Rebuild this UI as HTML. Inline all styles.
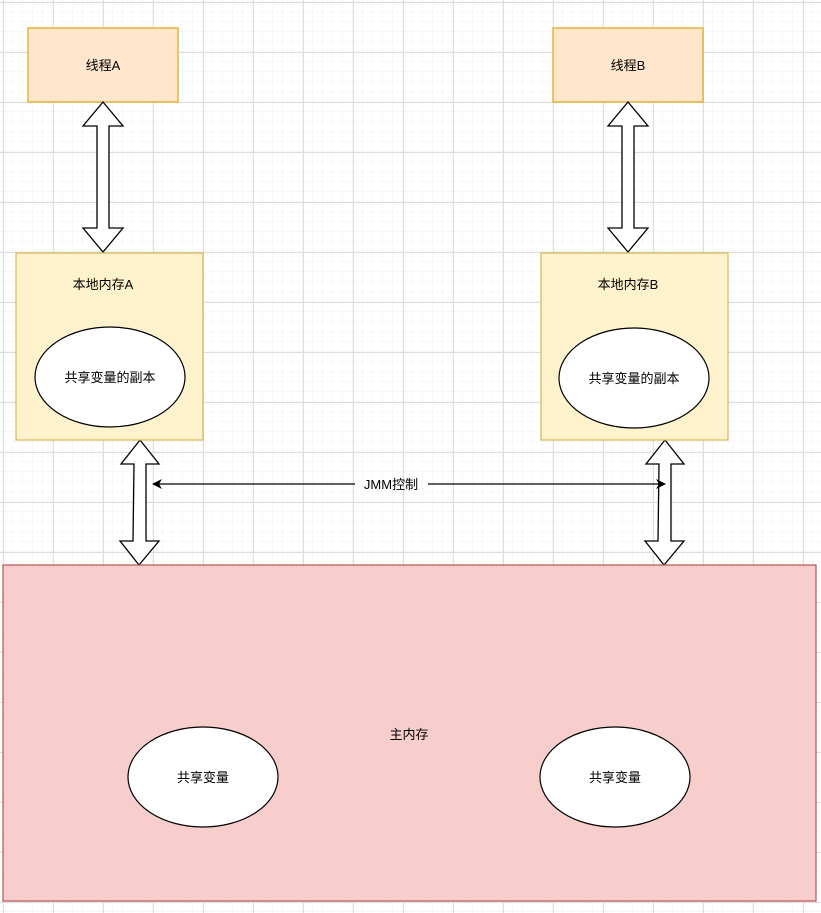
<!DOCTYPE html>
<html><head><meta charset="utf-8"><style>html,body{margin:0;padding:0;background:#fff}svg{display:block}text{font-family:"Liberation Sans","Noto Sans CJK SC",sans-serif;font-size:13px;fill:#000}</style></head><body>
<svg width="821" height="913" viewBox="0 0 821 913" xmlns="http://www.w3.org/2000/svg">
<defs>
<pattern id="mi" width="10" height="10" patternUnits="userSpaceOnUse" x="3" y="2"><path d="M10 0V10M0 10H10" fill="none" stroke="#f0f0f0" stroke-width="1"/></pattern>
<pattern id="ma" width="50" height="50" patternUnits="userSpaceOnUse" x="3" y="2"><path d="M0.5 0V50M0 0.5H50" fill="none" stroke="#dedede" stroke-width="1"/></pattern>
<marker id="ah" markerWidth="10" markerHeight="10" refX="9" refY="5" orient="auto" markerUnits="userSpaceOnUse"><path d="M0 0L10 5L0 10L3 5Z" fill="#000"/></marker>
</defs>
<rect width="821" height="913" fill="url(#mi)"/>
<rect width="821" height="913" fill="url(#ma)"/>
<rect x="28" y="28" width="150" height="74" fill="#ffe6cc" stroke="#e8b339" stroke-width="1.5"/>
<text x="103" y="70" text-anchor="middle">线程A</text>
<rect x="553" y="28" width="150" height="74" fill="#ffe6cc" stroke="#e8b339" stroke-width="1.5"/>
<text x="628" y="70" text-anchor="middle">线程B</text>
<g fill="#fff" stroke="#000" stroke-width="1.3">
<path d="M103 102L123 126H109V228H123L103 252L83 228H97V126H83Z"/>
<path d="M628 102L648 126H634V228H648L628 252L608 228H622V126H608Z"/>
<path d="M140 440L159 464H146L146 541H159L139 565L120 541H133L134 464H121Z"/>
<path d="M665 440L684 464H671L671 541H684L664 565L645 541H658L659 464H646Z"/>
</g>
<rect x="16" y="253" width="187" height="187" fill="#fff2cc" stroke="#d6b656" stroke-width="1.2"/>
<text x="103" y="289" text-anchor="middle">本地内存A</text>
<ellipse cx="110" cy="377" rx="75" ry="50" fill="#fff" stroke="#000" stroke-width="1.2"/>
<text x="110" y="382" text-anchor="middle">共享变量的副本</text>
<rect x="541" y="253" width="187" height="187" fill="#fff2cc" stroke="#d6b656" stroke-width="1.2"/>
<text x="628" y="289" text-anchor="middle">本地内存B</text>
<ellipse cx="634" cy="378" rx="75" ry="50" fill="#fff" stroke="#000" stroke-width="1.2"/>
<text x="634" y="383" text-anchor="middle">共享变量的副本</text>
<line x1="355" y1="484" x2="153" y2="484" stroke="#000" stroke-width="1.3" marker-end="url(#ah)"/>
<line x1="428" y1="484" x2="665" y2="484" stroke="#000" stroke-width="1.3" marker-end="url(#ah)"/>
<text x="391" y="489" text-anchor="middle">JMM控制</text>
<rect x="3" y="565" width="813" height="336" fill="#f8cecc" stroke="#b85450" stroke-width="1.2"/>
<text x="409" y="739" text-anchor="middle">主内存</text>
<ellipse cx="203" cy="777" rx="75" ry="50" fill="#fff" stroke="#000" stroke-width="1.2"/>
<text x="203" y="782" text-anchor="middle">共享变量</text>
<ellipse cx="615" cy="777" rx="75" ry="50" fill="#fff" stroke="#000" stroke-width="1.2"/>
<text x="615" y="782" text-anchor="middle">共享变量</text>
</svg>
</body></html>
